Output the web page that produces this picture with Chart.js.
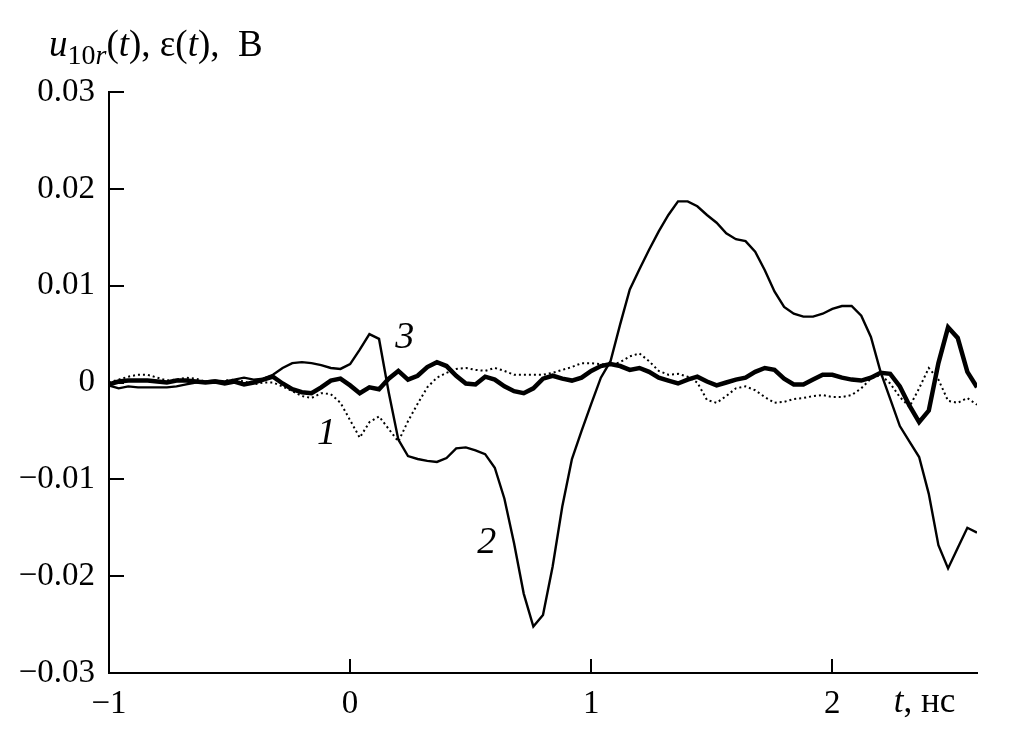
<!DOCTYPE html>
<html>
<head>
<meta charset="utf-8">
<script src="https://cdn.jsdelivr.net/npm/chart.js@4"></script>
<style>
  body { margin: 0; background: #fff; }
</style>
</head>
<body>
<canvas id="chart" width="1010" height="756"></canvas>
<script>
'use strict';
// time grid, ns
const times = [
  -1.00, -0.96, -0.92, -0.88, -0.84, -0.80, -0.76, -0.72, -0.68, -0.64,
  -0.60, -0.56, -0.52, -0.48, -0.44, -0.40, -0.36, -0.32, -0.28, -0.24,
  -0.20, -0.16, -0.12, -0.08, -0.04, 0.00, 0.04, 0.08, 0.12, 0.16,
  0.20, 0.24, 0.28, 0.32, 0.36, 0.40, 0.44, 0.48, 0.52, 0.56,
  0.60, 0.64, 0.68, 0.72, 0.76, 0.80, 0.84, 0.88, 0.92, 0.96,
  1.00, 1.04, 1.08, 1.12, 1.16, 1.20, 1.24, 1.28, 1.32, 1.36,
  1.40, 1.44, 1.48, 1.52, 1.56, 1.60, 1.64, 1.68, 1.72, 1.76,
  1.80, 1.84, 1.88, 1.92, 1.96, 2.00, 2.04, 2.08, 2.12, 2.16,
  2.20, 2.24, 2.28, 2.32, 2.36, 2.40, 2.44, 2.48, 2.52, 2.56,
  2.60
];

// curve 1 (dotted)
const curve1 = [
  0.0000, 0.0003, 0.0006, 0.0008, 0.0008, 0.0005, 0.0002, 0.0003, 0.0005, 0.0004,
  0.0001, 0.0000, 0.0002, 0.0003, 0.0001, -0.0002, 0.0000, 0.0000, -0.0004, -0.0009,
  -0.0014, -0.0016, -0.0011, -0.0012, -0.0021, -0.0039, -0.0057, -0.0041, -0.0035, -0.0048,
  -0.0061, -0.0040, -0.0022, -0.0005, 0.0005, 0.0010, 0.0014, 0.0015, 0.0013, 0.0012,
  0.0015, 0.0012, 0.0008, 0.0008, 0.0008, 0.0008, 0.0010, 0.0013, 0.0016, 0.0020,
  0.0020, 0.0019, 0.0018, 0.0021, 0.0027, 0.0030, 0.0022, 0.0012, 0.0008, 0.0009,
  0.0006, 0.0000, -0.0018, -0.0021, -0.0014, -0.0006, -0.0004, -0.0008, -0.0015, -0.0021,
  -0.0020, -0.0017, -0.0016, -0.0014, -0.0013, -0.0015, -0.0015, -0.0013, -0.0006, 0.0004,
  0.0008, -0.0001, -0.0015, -0.0025, -0.0006, 0.0015, 0.0003, -0.0019, -0.0021, -0.0016,
  -0.0023
];

// curve 2 (thin solid)
const curve2 = [
  -0.0003, -0.0006, -0.0004, -0.0005, -0.0005, -0.0005, -0.0005, -0.0004, -0.0002, 0.0000,
  0.0001, 0.0002, 0.0001, 0.0003, 0.0005, 0.0003, 0.0004, 0.0008, 0.0015, 0.0020,
  0.0021, 0.0020, 0.0018, 0.0015, 0.0014, 0.0019, 0.0034, 0.0050, 0.0045, -0.0010,
  -0.0059, -0.0076, -0.0079, -0.0081, -0.0082, -0.0078, -0.0068, -0.0067, -0.0070, -0.0074,
  -0.0088, -0.0120, -0.0166, -0.0218, -0.0252, -0.0240, -0.0190, -0.0128, -0.0079, -0.0050,
  -0.0022, 0.0005, 0.0022, 0.0060, 0.0096, 0.0117, 0.0137, 0.0156, 0.0173, 0.0187,
  0.0187, 0.0182, 0.0173, 0.0165, 0.0154, 0.0148, 0.0146, 0.0135, 0.0116, 0.0094,
  0.0078, 0.0071, 0.0068, 0.0068, 0.0071, 0.0076, 0.0079, 0.0079, 0.0069, 0.0047,
  0.0011, -0.0017, -0.0045, -0.0061, -0.0077, -0.0115, -0.0168, -0.0192, -0.0171, -0.0150,
  -0.0155
];

// curve 3 (thick)
const curve3 = [
  -0.0002, 0.0001, 0.0002, 0.0002, 0.0002, 0.0001, 0.0000, 0.0002, 0.0002, 0.0001,
  0.0000, 0.0001, -0.0001, 0.0001, -0.0002, 0.0000, 0.0003, 0.0006, -0.0001, -0.0007,
  -0.0010, -0.0011, -0.0005, 0.0002, 0.0004, -0.0003, -0.0011, -0.0005, -0.0007, 0.0004,
  0.0012, 0.0003, 0.0007, 0.0016, 0.0021, 0.0017, 0.0007, -0.0001, -0.0002, 0.0006,
  0.0003, -0.0004, -0.0009, -0.0011, -0.0006, 0.0004, 0.0007, 0.0004, 0.0002, 0.0005,
  0.0012, 0.0017, 0.0019, 0.0017, 0.0013, 0.0015, 0.0011, 0.0005, 0.0002, -0.0001,
  0.0003, 0.0006, 0.0001, -0.0003, 0.0000, 0.0003, 0.0005, 0.0011, 0.0015, 0.0013,
  0.0004, -0.0002, -0.0002, 0.0003, 0.0008, 0.0008, 0.0005, 0.0003, 0.0002, 0.0005,
  0.0010, 0.0009, -0.0004, -0.0024, -0.0041, -0.0029, 0.0020, 0.0057, 0.0046, 0.0011,
  -0.0005
];

const xTicks = [-1, 0, 1, 2];
const yTicks = [-0.03, -0.02, -0.01, 0, 0.01, 0.02, 0.03];

// curve number labels: [text, t, value]
const curveLabels = [['1', -0.137, -0.0063], ['2', 0.527, -0.0176], ['3', 0.187, 0.0036]];

const FONT = '"Liberation Serif", "Times New Roman", serif';

function pts(ys) {
  return times.map((t, i) => ({ x: t, y: ys[i] }));
}

function fmt(v) {
  if (v === 0) return '0';
  const s = Math.abs(v) < 1 ? Math.abs(v).toFixed(2) : String(Math.abs(v));
  return (v < 0 ? '\u2212' : '') + s;
}

// inward ticks, title and text labels
const decor = {
  id: 'decor',
  afterDraw(chart) {
    const ctx = chart.ctx;
    const xs = chart.scales.x, ys = chart.scales.y;
    const a = chart.chartArea;
    ctx.save();
    ctx.strokeStyle = '#000';
    ctx.lineWidth = 2;
    ctx.beginPath();
    xTicks.forEach(v => {
      const px = Math.round(xs.getPixelForValue(v));
      ctx.moveTo(px, a.bottom);
      ctx.lineTo(px, a.bottom - 14);
    });
    yTicks.forEach(v => {
      const py = Math.round(ys.getPixelForValue(v));
      ctx.moveTo(a.left, py);
      ctx.lineTo(a.left + 15, py);
    });
    ctx.stroke();

    ctx.fillStyle = '#000';
    ctx.textBaseline = 'alphabetic';
    ctx.textAlign = 'left';

    // title: u_{10r}(t), ε(t), B
    const runs = [
      ['u', 'italic ', 37, 0],
      ['10', '', 28, 8],
      ['r', 'italic ', 28, 8],
      ['(', '', 37, 0],
      ['t', 'italic ', 37, 0],
      ['), ε(', '', 37, 0],
      ['t', 'italic ', 37, 0],
      ['),  B', '', 37, 0]
    ];
    let x = 49;
    runs.forEach(([txt, st, sz, dy]) => {
      ctx.font = st + sz + 'px ' + FONT;
      ctx.fillText(txt, x, 56 + dy);
      x += ctx.measureText(txt).width;
    });

    // x axis name
    let ax = xs.getPixelForValue(2.255);
    const ay = a.bottom + 39;
    ctx.font = 'italic 35px ' + FONT;
    ctx.fillText('t', ax, ay);
    ax += ctx.measureText('t').width;
    ctx.font = '35px ' + FONT;
    ctx.fillText(', нс', ax, ay);

    // curve numbers
    ctx.font = 'italic 38px ' + FONT;
    curveLabels.forEach(([txt, t, v]) => {
      ctx.fillText(txt, xs.getPixelForValue(t), ys.getPixelForValue(v));
    });
    ctx.restore();
  }
};

const tickFont = { family: FONT, size: 33 };

new Chart(document.getElementById('chart'), {
  type: 'line',
  data: {
    datasets: [{
      label: '1',
      data: pts(curve1),
      borderColor: '#000',
      borderWidth: 2,
      borderDash: [2, 3],
      pointRadius: 0
    }, {
      label: '2',
      data: pts(curve2),
      borderColor: '#000',
      borderWidth: 2.4,
      pointRadius: 0
    }, {
      label: '3',
      data: pts(curve3),
      borderColor: '#000',
      borderWidth: 4.5,
      pointRadius: 0
    }]
  },
  options: {
    responsive: false,
    animation: false,
    layout: { padding: { top: 92, right: 33, left: 0, bottom: 0 } },
    plugins: { legend: { display: false }, tooltip: { enabled: false } },
    scales: {
      x: {
        type: 'linear',
        min: -1,
        max: 2.6,
        afterBuildTicks: s => { s.ticks = xTicks.map(v => ({ value: v })); },
        afterFit: s => { s.height = 83; },
        grid: { drawOnChartArea: false, drawTicks: false },
        border: { color: '#000', width: 2 },
        ticks: { color: '#000', font: tickFont, padding: 12, maxRotation: 0, callback: v => fmt(v) }
      },
      y: {
        min: -0.03,
        max: 0.03,
        afterBuildTicks: s => { s.ticks = yTicks.map(v => ({ value: v })); },
        afterFit: s => { s.width = 109; },
        grid: { drawOnChartArea: false, drawTicks: false },
        border: { color: '#000', width: 2 },
        ticks: { color: '#000', font: tickFont, padding: 14, callback: v => fmt(v) }
      }
    }
  },
  plugins: [decor]
});
</script>
</body>
</html>
